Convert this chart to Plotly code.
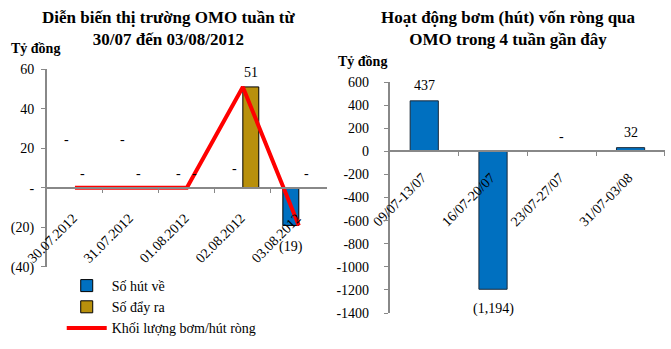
import plotly.graph_objects as go

# ---- data ----
dates = ["30.07.2012", "31.07.2012", "01.08.2012", "02.08.2012", "03.08.2012"]
hut_ve = [0, 0, 0, 0, -19]
day_ra = [0, 0, 0, 51, 0]
net = [0, 0, 0, 51, -19]

weeks = ["09/07-13/07", "16/07-20/07", "23/07-27/07", "31/07-03/08"]
weekly_net = [437, -1194, 0, 32]

left_yticks = [-40, -20, 0, 20, 40, 60]
right_yticks = [-1400, -1200, -1000, -800, -600, -400, -200, 0, 200, 400, 600]

# ---- style ----
SERIF = "Liberation Serif"
AX = "#888888"
BLUE = "#0070C0"
GOLD = "#B8900C"
hut_lift = [34, 34, 0, 5, 0]  # extra lift of left-series labels (pixels)


def fmt(v):
    if v == 0:
        return "-"
    if v < 0:
        return "({:,})".format(-v)
    return "{:,}".format(v)


def tick_fmt(v):
    if v == 0:
        return "-"
    return "({})".format(-v) if v < 0 else str(v)


L_X = [0.070, 0.487]
L_Y = [0.235, 0.802]
L_RANGE = [-40, 60]
R_X = [0.581, 0.991]
R_Y = [0.103, 0.765]
R_RANGE = [-1400, 600]


def zero_pos(dom, rng):
    return dom[0] + (0 - rng[0]) / (rng[1] - rng[0]) * (dom[1] - dom[0])


fig = go.Figure()
fig.add_trace(go.Bar(x=dates, y=hut_ve, name="Số hút về", marker=dict(color=BLUE, line=dict(color="black", width=1)),
                     xaxis="x", yaxis="y"))
fig.add_trace(go.Bar(x=dates, y=day_ra, name="Số đẩy ra", marker=dict(color=GOLD, line=dict(color="black", width=1)),
                     xaxis="x", yaxis="y"))
fig.add_trace(go.Scatter(x=dates, y=net, mode="lines", name="Khối lượng bơm/hút ròng",
                         line=dict(color="#FF0000", width=4), xaxis="x", yaxis="y"))
fig.add_trace(go.Bar(x=weeks, y=weekly_net, width=0.41, showlegend=False,
                     marker=dict(color=BLUE, line=dict(color="#1a2a3a", width=1)), xaxis="x2", yaxis="y2"))

ann = []
for i, d in enumerate(dates):
    v = hut_ve[i]
    ann.append(dict(x=d, y=v, xref="x", yref="y", text=fmt(v), showarrow=False, xshift=-8,
                    yshift=(-22 if v < 0 else 14 + hut_lift[i])))
    v = day_ra[i]
    ann.append(dict(x=d, y=v, xref="x", yref="y", text=fmt(v), showarrow=False, xshift=8,
                    yshift=(-22 if v < 0 else 14)))
for w, v in zip(weeks, weekly_net):
    ann.append(dict(x=w, y=v, xref="x2", yref="y2", text=fmt(v), showarrow=False,
                    yshift=(-20 if v < 0 else 15)))

for a in ann:
    a["font"] = dict(family=SERIF, size=14, color="black")
    a["xanchor"] = "center"
    a["yanchor"] = "middle"

ann += [
    dict(x=169 / 671, y=1 - 28 / 349, xref="paper", yref="paper", showarrow=False,
         xanchor="center", yanchor="middle",
         text="<b>Diễn biến thị trường OMO tuần từ<br>30/07 đến 03/08/2012</b>",
         font=dict(family=SERIF, size=17, color="black")),
    dict(x=508 / 671, y=1 - 28 / 349, xref="paper", yref="paper", showarrow=False,
         xanchor="center", yanchor="middle",
         text="<b>Hoạt động bơm (hút) vốn ròng qua<br>OMO trong 4 tuần gần đây</b>",
         font=dict(family=SERIF, size=17, color="black")),
    dict(x=35 / 671, y=1 - 49 / 349, xref="paper", yref="paper", showarrow=False,
         xanchor="center", yanchor="middle",
         text="<b>Tỷ đồng</b>", font=dict(family=SERIF, size=14, color="black")),
    dict(x=362 / 671, y=1 - 62 / 349, xref="paper", yref="paper", showarrow=False,
         xanchor="center", yanchor="middle",
         text="<b>Tỷ đồng</b>", font=dict(family=SERIF, size=14, color="black")),
]

tickfont = dict(family=SERIF, size=14, color="black")

fig.update_layout(
    template="none",
    width=671, height=349, margin=dict(l=0, r=0, t=0, b=0, autoexpand=False),
    paper_bgcolor="white", plot_bgcolor="white",
    barmode="group", bargap=0.43, bargroupgap=0,
    font=dict(family=SERIF, size=14, color="black"),
    annotations=ann,
    legend=dict(x=0.092, y=1 - 270 / 349, xanchor="left", yanchor="top", font=dict(family=SERIF, size=14),
                bgcolor="rgba(0,0,0,0)", tracegroupgap=0, itemwidth=40),
    xaxis=dict(domain=L_X, anchor="free", position=zero_pos(L_Y, L_RANGE), type="category", automargin=False,
               showline=True, linecolor=AX, linewidth=1.5, ticks="outside", tickson="boundaries",
               ticklen=4, tickcolor=AX, tickangle=-45, tickfont=tickfont, ticklabelstandoff=16,
               ticklabelshift=-2, showgrid=False, zeroline=False),
    yaxis=dict(domain=L_Y, anchor="x", range=L_RANGE, tickvals=left_yticks, automargin=False,
               ticktext=[tick_fmt(v) for v in left_yticks], showline=True, linecolor=AX, linewidth=2,
               ticks="outside", ticklen=4, tickcolor=AX, tickfont=tickfont, ticklabelstandoff=4,
               showgrid=False, zeroline=False),
    xaxis2=dict(domain=R_X, anchor="free", position=zero_pos(R_Y, R_RANGE), type="category", automargin=False,
                showline=True, linecolor=AX, linewidth=1.5, ticks="outside", tickson="boundaries",
                ticklen=4, tickcolor=AX, tickangle=-45, tickfont=tickfont, ticklabelstandoff=12,
                ticklabelshift=-2, showgrid=False, zeroline=False),
    yaxis2=dict(domain=R_Y, anchor="x2", range=R_RANGE, tickvals=right_yticks, automargin=False,
                ticktext=[str(v) for v in right_yticks], showline=True, linecolor=AX, linewidth=2,
                ticks="outside", ticklen=4, tickcolor=AX, tickfont=tickfont, ticklabelstandoff=12,
                showgrid=False, zeroline=False),
)

fig.write_html("out.html")
